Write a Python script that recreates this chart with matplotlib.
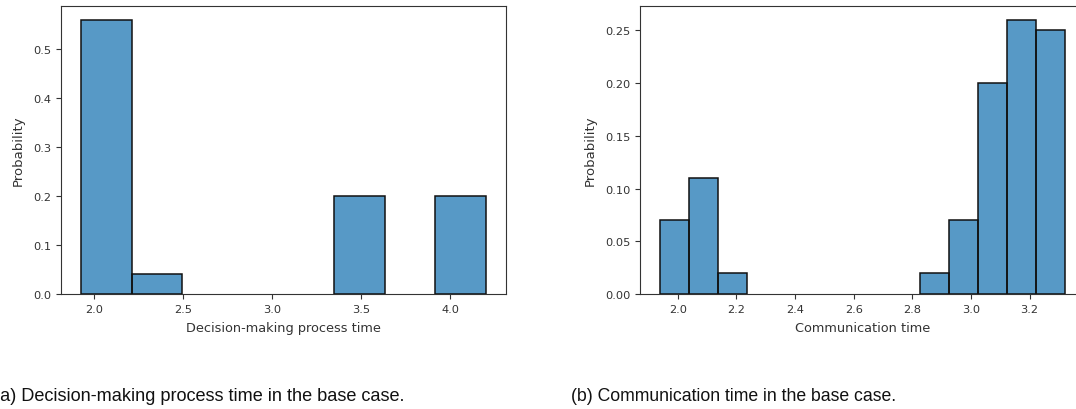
import numpy as np
import matplotlib
matplotlib.use("Agg")
import matplotlib.pyplot as plt

# decision-making process time histogram (8 bins)
dm_edges = np.linspace(1.93, 4.20, 9)
dm_prob = [0.56, 0.04, 0.0, 0.0, 0.0, 0.20, 0.0, 0.20]

# communication time histogram (14 bins)
comm_edges = np.linspace(1.94, 3.32, 15)
comm_prob = [0.07, 0.11, 0.02, 0.0, 0.0, 0.0, 0.0, 0.0, 0.0, 0.02, 0.07, 0.20, 0.26, 0.25]

dm_ticks = [2.0, 2.5, 3.0, 3.5, 4.0]
comm_ticks = [2.0, 2.2, 2.4, 2.6, 2.8, 3.0, 3.2]

captions = ["(a) Decision-making process time in the base case.",
            "(b) Communication time in the base case."]

W, H = 1076, 410
fig = plt.figure(figsize=(W / 100, H / 100), dpi=100)

bar_color = "#1f77b4"


def hist_panel(ax, edges, probs, ticks, xlabel, fmt):
    left = edges[:-1]
    widths = np.diff(edges)
    probs = np.asarray(probs)
    keep = probs > 0
    ax.bar(left[keep], probs[keep], width=widths[keep], align="edge",
           color=bar_color, alpha=0.75, edgecolor="none")
    ax.bar(left[keep], probs[keep], width=widths[keep], align="edge",
           fill=False, edgecolor="#111111", linewidth=1.1)
    # keep the full data range for the x limits
    span = edges[-1] - edges[0]
    ax.set_xlim(edges[0] - 0.05 * span, edges[-1] + 0.05 * span)
    ax.set_xticks(ticks)
    ax.set_xticklabels([f"{t:.1f}" for t in ticks])
    ax.yaxis.set_major_formatter(matplotlib.ticker.FormatStrFormatter(fmt))
    ax.set_xlabel(xlabel, fontsize=9.3, color="#333333", labelpad=5)
    ax.set_ylabel("Probability", fontsize=9.5, color="#333333", labelpad=6)
    ax.tick_params(labelsize=8.2, colors="#333333", length=3.5, width=0.8)
    for s in ax.spines.values():
        s.set_linewidth(0.8)
        s.set_color("#333333")


ax1 = fig.add_axes([61 / W, (H - 295) / H, 445 / W, 288 / H])
hist_panel(ax1, dm_edges, dm_prob, dm_ticks, "Decision-making process time", "%.1f")
ax1.set_yticks([0.0, 0.1, 0.2, 0.3, 0.4, 0.5])

ax2 = fig.add_axes([640 / W, (H - 295) / H, 445 / W, 288 / H])
hist_panel(ax2, comm_edges, comm_prob, comm_ticks, "Communication time", "%.2f")
ax2.set_yticks([0.0, 0.05, 0.10, 0.15, 0.20, 0.25])

fig.text(-6 / W, 1 - 397 / H, captions[0], fontsize=13.1, family="Liberation Sans",
         ha="left", va="center", color="#111111")
fig.text(571 / W, 1 - 397 / H, captions[1], fontsize=12.7, family="Liberation Sans",
         ha="left", va="center", color="#111111")

fig.savefig("out.png", dpi=100)
